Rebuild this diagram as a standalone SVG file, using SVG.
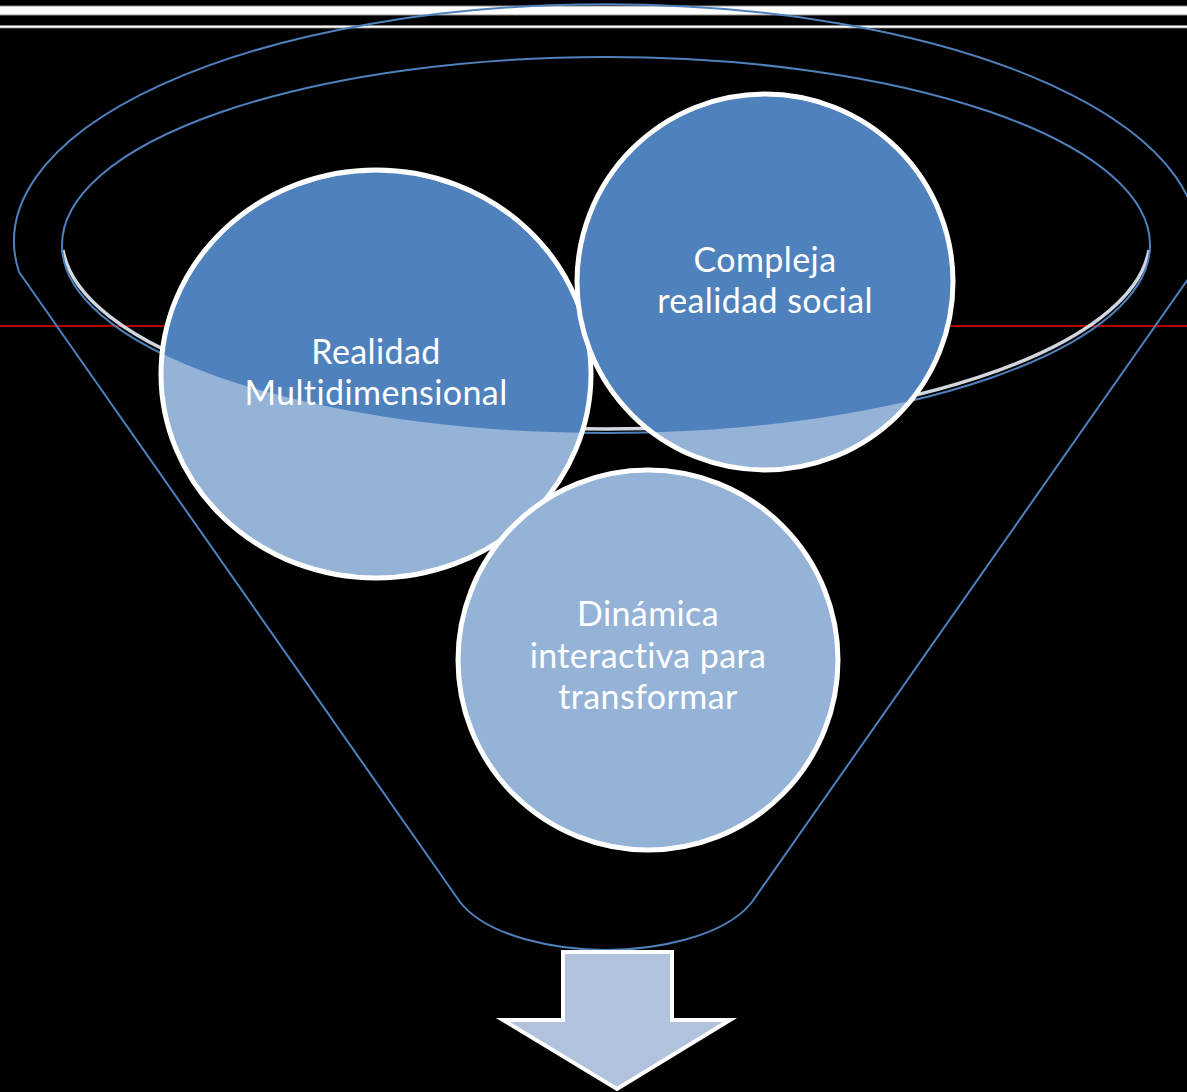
<svg xmlns="http://www.w3.org/2000/svg" width="1187" height="1092" viewBox="0 0 1187 1092">
<style>
.lbl{font-family:Lato,"Open Sans","Liberation Sans",sans-serif;font-size:34px;letter-spacing:0.4px;fill:#ffffff;text-anchor:middle}
.light{fill:#95b3d7}
.dark{fill:#4f81bd}
.ring{fill:none;stroke:#ffffff;stroke-width:5}
.edge{fill:none;stroke:#4f81bd;stroke-width:2}
</style>
<defs>
<clipPath id="mouth"><ellipse cx="606" cy="245" rx="544" ry="188"/></clipPath>
</defs>
<rect x="0" y="0" width="1187" height="1092" fill="#000000"/>
<g id="background-lines">
<rect x="-2" y="6" width="1191" height="9" fill="#ffffff" stroke="#8c8c8c" stroke-width="1"/>
<rect x="-2" y="25.5" width="1191" height="2.5" fill="#ffffff" stroke="#8c8c8c" stroke-width="0.8"/>
<line x1="0" y1="326" x2="1187" y2="326" stroke="#b00000" stroke-width="2"/>
</g>
<g id="funnel">
<path class="edge" d="M 19,272 L 460,902 C 488,938 560,950 606,950 C 652,950 724,938 752,902 L 1193,272 A 592 237 0 1 0 19,272 Z"/>
<path d="M 63,250 A 544 190.5 0 0 0 1149,250" fill="none" stroke="#e8eef8" stroke-width="3.5" opacity="0.9"/>
<ellipse class="edge" cx="606" cy="245" rx="544" ry="188"/>
</g>
<g id="node-realidad">
<ellipse class="light" cx="376" cy="374" rx="215" ry="204"/>
<ellipse class="dark" cx="376" cy="374" rx="215" ry="204" clip-path="url(#mouth)"/>
<ellipse class="ring" cx="376" cy="374" rx="215" ry="204"/>
<text class="lbl" x="376" y="364">Realidad</text>
<text class="lbl" x="376" y="405">Multidimensional</text>
</g>
<g id="node-compleja">
<circle class="light" cx="765" cy="282" r="188"/>
<circle class="dark" cx="765" cy="282" r="188" clip-path="url(#mouth)"/>
<circle class="ring" cx="765" cy="282" r="188"/>
<text class="lbl" x="765" y="272">Compleja</text>
<text class="lbl" x="765" y="313">realidad social</text>
</g>
<g id="node-dinamica">
<circle class="light" cx="648" cy="660" r="190"/>
<circle class="ring" cx="648" cy="660" r="190"/>
<text class="lbl" x="648" y="626">Dinámica</text>
<text class="lbl" x="648" y="668">interactiva para</text>
<text class="lbl" x="648" y="709">transformar</text>
</g>
<g id="connectors">
<path d="M 563,952 L 672,952 L 672,1020 L 730,1020 L 617,1089 L 503,1020 L 563,1020 Z" fill="#b1c2dd" stroke="#ffffff" stroke-width="4" stroke-linejoin="miter"/>
</g>
</svg>
